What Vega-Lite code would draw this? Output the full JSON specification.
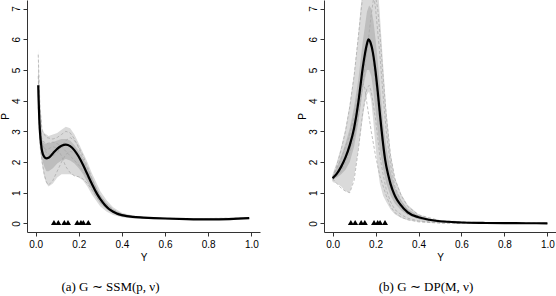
{
  "$schema": "https://vega.github.io/schema/vega-lite/v6.json",
  "padding": {"left": 0, "top": 0, "right": 0, "bottom": 0},
  "spacing": 37,
  "config": {
    "view": {"stroke": null},
    "font": "Liberation Sans",
    "axis": {"grid": false, "domainColor": "#333333", "tickColor": "#333333", "tickSize": 4, "labelFontSize": 10, "titleFontSize": 10, "titleFontWeight": "normal", "labelColor": "#000000", "titleColor": "#000000", "labelFont": "Liberation Sans", "titleFont": "Liberation Sans"},
    "title": {"font": "Liberation Serif", "fontSize": 13, "fontWeight": "normal", "color": "#000000"}
  },
  "datasets": {
    "meanA": [
      {"x": 0.012, "y": 4.5}, {"x": 0.014, "y": 4.0}, {"x": 0.017, "y": 3.4}, {"x": 0.02, "y": 3.0}, {"x": 0.025, "y": 2.6}, {"x": 0.03, "y": 2.35}, {"x": 0.04, "y": 2.17}, {"x": 0.05, "y": 2.12}, {"x": 0.06, "y": 2.14}, {"x": 0.08, "y": 2.28}, {"x": 0.1, "y": 2.43}, {"x": 0.12, "y": 2.53}, {"x": 0.14, "y": 2.57}, {"x": 0.16, "y": 2.52}, {"x": 0.18, "y": 2.38}, {"x": 0.2, "y": 2.17}, {"x": 0.22, "y": 1.9}, {"x": 0.24, "y": 1.6}, {"x": 0.26, "y": 1.3}, {"x": 0.28, "y": 1.02}, {"x": 0.3, "y": 0.79}, {"x": 0.32, "y": 0.61}, {"x": 0.34, "y": 0.47}, {"x": 0.36, "y": 0.38}, {"x": 0.38, "y": 0.31}, {"x": 0.4, "y": 0.27}, {"x": 0.45, "y": 0.21}, {"x": 0.5, "y": 0.19}, {"x": 0.6, "y": 0.16}, {"x": 0.7, "y": 0.14}, {"x": 0.8, "y": 0.13}, {"x": 0.9, "y": 0.14}, {"x": 0.99, "y": 0.17}
    ],
    "bandAo": [
      {"x": 0.012, "y": 3.6, "hi": 5.7}, {"x": 0.015, "y": 3.0, "hi": 5.0}, {"x": 0.02, "y": 2.4, "hi": 4.0}, {"x": 0.03, "y": 1.9, "hi": 3.1}, {"x": 0.04, "y": 1.5, "hi": 2.95}, {"x": 0.05, "y": 1.3, "hi": 2.9}, {"x": 0.06, "y": 1.2, "hi": 2.85}, {"x": 0.08, "y": 1.3, "hi": 2.9}, {"x": 0.1, "y": 1.5, "hi": 2.95}, {"x": 0.12, "y": 1.6, "hi": 3.05}, {"x": 0.14, "y": 1.6, "hi": 3.15}, {"x": 0.16, "y": 1.6, "hi": 3.1}, {"x": 0.18, "y": 1.55, "hi": 2.9}, {"x": 0.2, "y": 1.5, "hi": 2.6}, {"x": 0.22, "y": 1.4, "hi": 2.3}, {"x": 0.24, "y": 1.2, "hi": 2.0}, {"x": 0.26, "y": 0.95, "hi": 1.65}, {"x": 0.28, "y": 0.75, "hi": 1.35}, {"x": 0.3, "y": 0.55, "hi": 1.05}, {"x": 0.33, "y": 0.38, "hi": 0.75}, {"x": 0.36, "y": 0.27, "hi": 0.52}, {"x": 0.4, "y": 0.2, "hi": 0.35}, {"x": 0.45, "y": 0.16, "hi": 0.26}, {"x": 0.5, "y": 0.15, "hi": 0.22}, {"x": 0.6, "y": 0.13, "hi": 0.18}, {"x": 0.7, "y": 0.12, "hi": 0.16}, {"x": 0.8, "y": 0.11, "hi": 0.15}, {"x": 0.9, "y": 0.12, "hi": 0.16}, {"x": 0.99, "y": 0.14, "hi": 0.2}
    ],
    "bandAi": [
      {"x": 0.012, "y": 4.0, "hi": 5.2}, {"x": 0.015, "y": 3.3, "hi": 4.4}, {"x": 0.02, "y": 2.6, "hi": 3.4}, {"x": 0.03, "y": 2.1, "hi": 2.7}, {"x": 0.04, "y": 1.85, "hi": 2.6}, {"x": 0.05, "y": 1.7, "hi": 2.6}, {"x": 0.06, "y": 1.7, "hi": 2.6}, {"x": 0.08, "y": 1.8, "hi": 2.65}, {"x": 0.1, "y": 1.95, "hi": 2.7}, {"x": 0.12, "y": 2.05, "hi": 2.75}, {"x": 0.14, "y": 2.1, "hi": 2.75}, {"x": 0.16, "y": 2.05, "hi": 2.7}, {"x": 0.18, "y": 1.95, "hi": 2.55}, {"x": 0.2, "y": 1.8, "hi": 2.35}, {"x": 0.22, "y": 1.6, "hi": 2.1}, {"x": 0.24, "y": 1.35, "hi": 1.8}, {"x": 0.26, "y": 1.1, "hi": 1.5}, {"x": 0.28, "y": 0.85, "hi": 1.2}, {"x": 0.3, "y": 0.65, "hi": 0.92}, {"x": 0.33, "y": 0.45, "hi": 0.65}, {"x": 0.36, "y": 0.32, "hi": 0.45}, {"x": 0.4, "y": 0.22, "hi": 0.31}, {"x": 0.45, "y": 0.18, "hi": 0.24}, {"x": 0.5, "y": 0.16, "hi": 0.21}, {"x": 0.6, "y": 0.14, "hi": 0.17}, {"x": 0.7, "y": 0.13, "hi": 0.155}, {"x": 0.8, "y": 0.12, "hi": 0.145}, {"x": 0.9, "y": 0.13, "hi": 0.15}, {"x": 0.99, "y": 0.15, "hi": 0.19}
    ],
    "linesA": [
      {"id": 1, "x": 0.012, "y": 5.5}, {"id": 1, "x": 0.02, "y": 3.8}, {"id": 1, "x": 0.03, "y": 3.0}, {"id": 1, "x": 0.05, "y": 2.8}, {"id": 1, "x": 0.08, "y": 2.75}, {"id": 1, "x": 0.1, "y": 2.8}, {"id": 1, "x": 0.12, "y": 2.9}, {"id": 1, "x": 0.14, "y": 3.0}, {"id": 1, "x": 0.16, "y": 2.95}, {"id": 1, "x": 0.18, "y": 2.75}, {"id": 1, "x": 0.2, "y": 2.45}, {"id": 1, "x": 0.22, "y": 2.1}, {"id": 1, "x": 0.24, "y": 1.8}, {"id": 1, "x": 0.26, "y": 1.45}, {"id": 1, "x": 0.28, "y": 1.15}, {"id": 1, "x": 0.3, "y": 0.9}, {"id": 1, "x": 0.33, "y": 0.62}, {"id": 1, "x": 0.36, "y": 0.45}, {"id": 1, "x": 0.4, "y": 0.3}, {"id": 1, "x": 0.45, "y": 0.22}, {"id": 1, "x": 0.5, "y": 0.19}, {"id": 1, "x": 0.6, "y": 0.16}, {"id": 1, "x": 0.7, "y": 0.14}, {"id": 1, "x": 0.8, "y": 0.13}, {"id": 1, "x": 0.9, "y": 0.14}, {"id": 1, "x": 0.99, "y": 0.17},
      {"id": 2, "x": 0.012, "y": 3.8}, {"id": 2, "x": 0.02, "y": 2.6}, {"id": 2, "x": 0.03, "y": 2.0}, {"id": 2, "x": 0.04, "y": 1.6}, {"id": 2, "x": 0.05, "y": 1.35}, {"id": 2, "x": 0.06, "y": 1.25}, {"id": 2, "x": 0.08, "y": 1.4}, {"id": 2, "x": 0.1, "y": 1.7}, {"id": 2, "x": 0.12, "y": 2.0}, {"id": 2, "x": 0.14, "y": 2.25}, {"id": 2, "x": 0.16, "y": 2.35}, {"id": 2, "x": 0.18, "y": 2.3}, {"id": 2, "x": 0.2, "y": 2.15}, {"id": 2, "x": 0.22, "y": 1.9}, {"id": 2, "x": 0.24, "y": 1.6}, {"id": 2, "x": 0.26, "y": 1.3}, {"id": 2, "x": 0.28, "y": 1.0}, {"id": 2, "x": 0.3, "y": 0.75}, {"id": 2, "x": 0.33, "y": 0.5}, {"id": 2, "x": 0.36, "y": 0.36}, {"id": 2, "x": 0.4, "y": 0.26}, {"id": 2, "x": 0.5, "y": 0.18}, {"id": 2, "x": 0.7, "y": 0.14}, {"id": 2, "x": 0.99, "y": 0.16},
      {"id": 3, "x": 0.012, "y": 4.2}, {"id": 3, "x": 0.02, "y": 3.0}, {"id": 3, "x": 0.03, "y": 2.5}, {"id": 3, "x": 0.05, "y": 2.4}, {"id": 3, "x": 0.08, "y": 2.5}, {"id": 3, "x": 0.1, "y": 2.45}, {"id": 3, "x": 0.12, "y": 2.2}, {"id": 3, "x": 0.14, "y": 1.85}, {"id": 3, "x": 0.16, "y": 1.65}, {"id": 3, "x": 0.18, "y": 1.55}, {"id": 3, "x": 0.2, "y": 1.52}, {"id": 3, "x": 0.22, "y": 1.45}, {"id": 3, "x": 0.24, "y": 1.3}, {"id": 3, "x": 0.26, "y": 1.1}, {"id": 3, "x": 0.28, "y": 0.88}, {"id": 3, "x": 0.3, "y": 0.68}, {"id": 3, "x": 0.33, "y": 0.48}, {"id": 3, "x": 0.36, "y": 0.35}, {"id": 3, "x": 0.4, "y": 0.25}, {"id": 3, "x": 0.5, "y": 0.18}, {"id": 3, "x": 0.7, "y": 0.14}, {"id": 3, "x": 0.99, "y": 0.17},
      {"id": 4, "x": 0.012, "y": 4.8}, {"id": 4, "x": 0.02, "y": 3.3}, {"id": 4, "x": 0.03, "y": 2.6}, {"id": 4, "x": 0.05, "y": 2.3}, {"id": 4, "x": 0.08, "y": 2.2}, {"id": 4, "x": 0.1, "y": 2.3}, {"id": 4, "x": 0.12, "y": 2.5}, {"id": 4, "x": 0.14, "y": 2.7}, {"id": 4, "x": 0.16, "y": 2.8}, {"id": 4, "x": 0.18, "y": 2.7}, {"id": 4, "x": 0.2, "y": 2.5}, {"id": 4, "x": 0.22, "y": 2.2}, {"id": 4, "x": 0.24, "y": 1.85}, {"id": 4, "x": 0.26, "y": 1.5}, {"id": 4, "x": 0.28, "y": 1.15}, {"id": 4, "x": 0.3, "y": 0.85}, {"id": 4, "x": 0.33, "y": 0.55}, {"id": 4, "x": 0.36, "y": 0.38}, {"id": 4, "x": 0.4, "y": 0.27}, {"id": 4, "x": 0.5, "y": 0.19}, {"id": 4, "x": 0.7, "y": 0.15}, {"id": 4, "x": 0.99, "y": 0.18},
      {"id": 5, "x": 0.012, "y": 4.3}, {"id": 5, "x": 0.02, "y": 3.1}, {"id": 5, "x": 0.03, "y": 2.7}, {"id": 5, "x": 0.05, "y": 2.6}, {"id": 5, "x": 0.08, "y": 2.65}, {"id": 5, "x": 0.1, "y": 2.6}, {"id": 5, "x": 0.12, "y": 2.5}, {"id": 5, "x": 0.14, "y": 2.35}, {"id": 5, "x": 0.16, "y": 2.2}, {"id": 5, "x": 0.18, "y": 2.05}, {"id": 5, "x": 0.2, "y": 1.9}, {"id": 5, "x": 0.22, "y": 1.7}, {"id": 5, "x": 0.24, "y": 1.5}, {"id": 5, "x": 0.26, "y": 1.25}, {"id": 5, "x": 0.28, "y": 1.0}, {"id": 5, "x": 0.3, "y": 0.78}, {"id": 5, "x": 0.33, "y": 0.55}, {"id": 5, "x": 0.36, "y": 0.4}, {"id": 5, "x": 0.4, "y": 0.28}, {"id": 5, "x": 0.5, "y": 0.19}, {"id": 5, "x": 0.7, "y": 0.15}, {"id": 5, "x": 0.99, "y": 0.17}
    ],
    "pts": [
      {"x": 0.085, "y": 0.03}, {"x": 0.105, "y": 0.03}, {"x": 0.133, "y": 0.03}, {"x": 0.15, "y": 0.03}, {"x": 0.193, "y": 0.03}, {"x": 0.21, "y": 0.03}, {"x": 0.221, "y": 0.03}, {"x": 0.244, "y": 0.03}
    ],
    "meanB": [
      {"x": 0.0, "y": 1.47}, {"x": 0.02, "y": 1.62}, {"x": 0.04, "y": 1.85}, {"x": 0.06, "y": 2.15}, {"x": 0.08, "y": 2.55}, {"x": 0.1, "y": 3.1}, {"x": 0.12, "y": 3.95}, {"x": 0.13, "y": 4.5}, {"x": 0.14, "y": 5.05}, {"x": 0.15, "y": 5.5}, {"x": 0.16, "y": 5.85}, {"x": 0.167, "y": 6.0}, {"x": 0.175, "y": 5.92}, {"x": 0.188, "y": 5.55}, {"x": 0.2, "y": 4.95}, {"x": 0.21, "y": 4.3}, {"x": 0.222, "y": 3.45}, {"x": 0.235, "y": 2.6}, {"x": 0.245, "y": 2.06}, {"x": 0.26, "y": 1.55}, {"x": 0.27, "y": 1.28}, {"x": 0.29, "y": 0.9}, {"x": 0.315, "y": 0.62}, {"x": 0.35, "y": 0.36}, {"x": 0.4, "y": 0.2}, {"x": 0.45, "y": 0.12}, {"x": 0.5, "y": 0.07}, {"x": 0.6, "y": 0.03}, {"x": 0.7, "y": 0.015}, {"x": 0.8, "y": 0.008}, {"x": 0.9, "y": 0.005}, {"x": 1.0, "y": 0.004}
    ],
    "bandBo": [
      {"x": 0.0, "y": 1.35, "hi": 1.6}, {"x": 0.02, "y": 1.3, "hi": 2.0}, {"x": 0.04, "y": 1.2, "hi": 2.5}, {"x": 0.06, "y": 1.05, "hi": 3.1}, {"x": 0.08, "y": 1.0, "hi": 3.9}, {"x": 0.1, "y": 1.5, "hi": 4.9}, {"x": 0.12, "y": 2.4, "hi": 6.2}, {"x": 0.13, "y": 2.9, "hi": 7.0}, {"x": 0.14, "y": 3.4, "hi": 7.6}, {"x": 0.15, "y": 3.9, "hi": 8.0}, {"x": 0.16, "y": 4.2, "hi": 8.0}, {"x": 0.17, "y": 4.3, "hi": 8.0}, {"x": 0.18, "y": 4.0, "hi": 8.0}, {"x": 0.19, "y": 3.3, "hi": 8.0}, {"x": 0.2, "y": 2.5, "hi": 8.0}, {"x": 0.21, "y": 1.8, "hi": 7.8}, {"x": 0.22, "y": 1.3, "hi": 6.8}, {"x": 0.235, "y": 0.9, "hi": 5.2}, {"x": 0.25, "y": 0.7, "hi": 3.7}, {"x": 0.27, "y": 0.45, "hi": 2.3}, {"x": 0.29, "y": 0.3, "hi": 1.5}, {"x": 0.32, "y": 0.18, "hi": 0.95}, {"x": 0.35, "y": 0.1, "hi": 0.6}, {"x": 0.4, "y": 0.05, "hi": 0.3}, {"x": 0.45, "y": 0.02, "hi": 0.17}, {"x": 0.5, "y": 0.01, "hi": 0.1}, {"x": 0.6, "y": 0.0, "hi": 0.05}, {"x": 0.7, "y": 0.0, "hi": 0.03}, {"x": 0.8, "y": 0.0, "hi": 0.02}, {"x": 0.9, "y": 0.0, "hi": 0.015}, {"x": 1.0, "y": 0.0, "hi": 0.01}
    ],
    "bandBi": [
      {"x": 0.0, "y": 1.42, "hi": 1.52}, {"x": 0.02, "y": 1.5, "hi": 1.85}, {"x": 0.04, "y": 1.6, "hi": 2.2}, {"x": 0.06, "y": 1.75, "hi": 2.6}, {"x": 0.08, "y": 2.0, "hi": 3.1}, {"x": 0.1, "y": 2.5, "hi": 3.8}, {"x": 0.12, "y": 3.3, "hi": 4.7}, {"x": 0.13, "y": 3.8, "hi": 5.3}, {"x": 0.14, "y": 4.3, "hi": 5.9}, {"x": 0.15, "y": 4.7, "hi": 6.4}, {"x": 0.16, "y": 5.0, "hi": 6.9}, {"x": 0.17, "y": 5.0, "hi": 7.1}, {"x": 0.18, "y": 4.8, "hi": 7.0}, {"x": 0.19, "y": 4.3, "hi": 6.6}, {"x": 0.2, "y": 3.7, "hi": 6.0}, {"x": 0.21, "y": 3.0, "hi": 5.3}, {"x": 0.22, "y": 2.4, "hi": 4.5}, {"x": 0.235, "y": 1.8, "hi": 3.3}, {"x": 0.25, "y": 1.3, "hi": 2.5}, {"x": 0.27, "y": 0.9, "hi": 1.7}, {"x": 0.29, "y": 0.65, "hi": 1.15}, {"x": 0.32, "y": 0.42, "hi": 0.75}, {"x": 0.35, "y": 0.27, "hi": 0.47}, {"x": 0.4, "y": 0.14, "hi": 0.26}, {"x": 0.45, "y": 0.08, "hi": 0.15}, {"x": 0.5, "y": 0.05, "hi": 0.09}, {"x": 0.6, "y": 0.02, "hi": 0.04}, {"x": 0.7, "y": 0.01, "hi": 0.02}, {"x": 0.8, "y": 0.005, "hi": 0.012}, {"x": 0.9, "y": 0.003, "hi": 0.008}, {"x": 1.0, "y": 0.002, "hi": 0.006}
    ],
    "linesB": [
      {"id": 1, "x": 0.0, "y": 1.45}, {"id": 1, "x": 0.02, "y": 1.3}, {"id": 1, "x": 0.04, "y": 1.15}, {"id": 1, "x": 0.06, "y": 1.05}, {"id": 1, "x": 0.08, "y": 1.0}, {"id": 1, "x": 0.1, "y": 1.4}, {"id": 1, "x": 0.12, "y": 2.4}, {"id": 1, "x": 0.14, "y": 3.6}, {"id": 1, "x": 0.16, "y": 4.4}, {"id": 1, "x": 0.17, "y": 4.5}, {"id": 1, "x": 0.18, "y": 4.3}, {"id": 1, "x": 0.2, "y": 3.4}, {"id": 1, "x": 0.22, "y": 2.2}, {"id": 1, "x": 0.235, "y": 1.6}, {"id": 1, "x": 0.25, "y": 1.1}, {"id": 1, "x": 0.27, "y": 0.7}, {"id": 1, "x": 0.29, "y": 0.45}, {"id": 1, "x": 0.32, "y": 0.28}, {"id": 1, "x": 0.35, "y": 0.17}, {"id": 1, "x": 0.4, "y": 0.08}, {"id": 1, "x": 0.5, "y": 0.02}, {"id": 1, "x": 0.7, "y": 0.005}, {"id": 1, "x": 1.0, "y": 0.0},
      {"id": 2, "x": 0.0, "y": 1.5}, {"id": 2, "x": 0.02, "y": 1.9}, {"id": 2, "x": 0.04, "y": 2.4}, {"id": 2, "x": 0.06, "y": 3.0}, {"id": 2, "x": 0.08, "y": 3.8}, {"id": 2, "x": 0.1, "y": 4.8}, {"id": 2, "x": 0.12, "y": 6.1}, {"id": 2, "x": 0.14, "y": 7.4}, {"id": 2, "x": 0.16, "y": 8.2}, {"id": 2, "x": 0.18, "y": 8.0}, {"id": 2, "x": 0.2, "y": 7.0}, {"id": 2, "x": 0.22, "y": 5.5}, {"id": 2, "x": 0.235, "y": 4.2}, {"id": 2, "x": 0.25, "y": 3.0}, {"id": 2, "x": 0.27, "y": 1.9}, {"id": 2, "x": 0.29, "y": 1.2}, {"id": 2, "x": 0.32, "y": 0.7}, {"id": 2, "x": 0.35, "y": 0.42}, {"id": 2, "x": 0.4, "y": 0.2}, {"id": 2, "x": 0.5, "y": 0.06}, {"id": 2, "x": 0.7, "y": 0.01}, {"id": 2, "x": 1.0, "y": 0.0},
      {"id": 3, "x": 0.0, "y": 1.4}, {"id": 3, "x": 0.04, "y": 1.7}, {"id": 3, "x": 0.08, "y": 2.3}, {"id": 3, "x": 0.1, "y": 2.8}, {"id": 3, "x": 0.12, "y": 3.5}, {"id": 3, "x": 0.14, "y": 4.5}, {"id": 3, "x": 0.16, "y": 5.6}, {"id": 3, "x": 0.18, "y": 6.8}, {"id": 3, "x": 0.19, "y": 7.3}, {"id": 3, "x": 0.2, "y": 7.4}, {"id": 3, "x": 0.21, "y": 7.0}, {"id": 3, "x": 0.22, "y": 6.2}, {"id": 3, "x": 0.235, "y": 4.8}, {"id": 3, "x": 0.25, "y": 3.5}, {"id": 3, "x": 0.27, "y": 2.2}, {"id": 3, "x": 0.29, "y": 1.45}, {"id": 3, "x": 0.32, "y": 0.9}, {"id": 3, "x": 0.35, "y": 0.55}, {"id": 3, "x": 0.4, "y": 0.28}, {"id": 3, "x": 0.5, "y": 0.09}, {"id": 3, "x": 0.7, "y": 0.02}, {"id": 3, "x": 1.0, "y": 0.005},
      {"id": 4, "x": 0.0, "y": 1.5}, {"id": 4, "x": 0.04, "y": 2.1}, {"id": 4, "x": 0.08, "y": 2.9}, {"id": 4, "x": 0.1, "y": 3.5}, {"id": 4, "x": 0.12, "y": 4.3}, {"id": 4, "x": 0.14, "y": 4.6}, {"id": 4, "x": 0.15, "y": 4.4}, {"id": 4, "x": 0.16, "y": 3.9}, {"id": 4, "x": 0.18, "y": 3.0}, {"id": 4, "x": 0.2, "y": 2.2}, {"id": 4, "x": 0.22, "y": 1.55}, {"id": 4, "x": 0.25, "y": 0.9}, {"id": 4, "x": 0.27, "y": 0.55}, {"id": 4, "x": 0.29, "y": 0.35}, {"id": 4, "x": 0.32, "y": 0.2}, {"id": 4, "x": 0.35, "y": 0.12}, {"id": 4, "x": 0.4, "y": 0.05}, {"id": 4, "x": 0.5, "y": 0.01}, {"id": 4, "x": 1.0, "y": 0.0},
      {"id": 5, "x": 0.0, "y": 1.45}, {"id": 5, "x": 0.04, "y": 1.8}, {"id": 5, "x": 0.08, "y": 2.4}, {"id": 5, "x": 0.1, "y": 2.9}, {"id": 5, "x": 0.12, "y": 3.7}, {"id": 5, "x": 0.14, "y": 4.8}, {"id": 5, "x": 0.16, "y": 5.7}, {"id": 5, "x": 0.17, "y": 5.9}, {"id": 5, "x": 0.18, "y": 5.7}, {"id": 5, "x": 0.2, "y": 4.6}, {"id": 5, "x": 0.22, "y": 3.3}, {"id": 5, "x": 0.235, "y": 2.4}, {"id": 5, "x": 0.25, "y": 1.75}, {"id": 5, "x": 0.27, "y": 1.15}, {"id": 5, "x": 0.29, "y": 0.8}, {"id": 5, "x": 0.32, "y": 0.5}, {"id": 5, "x": 0.35, "y": 0.3}, {"id": 5, "x": 0.4, "y": 0.15}, {"id": 5, "x": 0.5, "y": 0.05}, {"id": 5, "x": 0.7, "y": 0.01}, {"id": 5, "x": 1.0, "y": 0.0}
    ]
  },
  "hconcat": [
    {
      "width": 233,
      "height": 232,
      "title": {"text": "(a) G ∼ SSM(p, ν)", "orient": "bottom", "offset": 19, "dx": -33},
      "encoding": {
        "x": {"field": "x", "type": "quantitative", "scale": {"domain": [-0.04, 1.04], "nice": false, "zero": false}, "axis": {"title": "Y", "values": [0, 0.2, 0.4, 0.6, 0.8, 1.0], "format": ".1f", "labelPadding": 3, "titlePadding": 3, "labelFlush": false}},
        "y": {"field": "y", "type": "quantitative", "scale": {"domain": [-0.28, 7.28], "nice": false, "zero": false}, "axis": {"title": "P", "values": [0, 1, 2, 3, 4, 5, 6, 7], "labelAngle": 270, "labelAlign": "center", "labelBaseline": "bottom", "labelPadding": 2, "titlePadding": 1, "labelFlush": false}}
      },
      "layer": [
        {"data": {"name": "bandAo"}, "mark": {"type": "area", "color": "#dadada", "clip": true}, "encoding": {"y2": {"field": "hi"}}},
        {"data": {"name": "bandAi"}, "mark": {"type": "area", "color": "#bdbdbd", "clip": true}, "encoding": {"y2": {"field": "hi"}}},
        {"data": {"name": "linesA"}, "mark": {"type": "line", "color": "#a6a6a6", "strokeWidth": 0.7, "strokeDash": [3, 2], "clip": true}, "encoding": {"detail": {"field": "id", "type": "nominal"}}},
        {"data": {"name": "meanA"}, "mark": {"type": "line", "color": "#000000", "strokeWidth": 2.2, "interpolate": "monotone", "clip": true}, "encoding": {}},
        {"data": {"name": "pts"}, "mark": {"type": "point", "shape": "triangle-up", "filled": true, "color": "#000000", "size": 36, "opacity": 1}, "encoding": {}}
      ]
    },
    {
      "width": 232,
      "height": 232,
      "title": {"text": "(b) G ∼ DP(M, ν)", "orient": "bottom", "offset": 19, "dx": -14},
      "encoding": {
        "x": {"field": "x", "type": "quantitative", "scale": {"domain": [-0.04, 1.04], "nice": false, "zero": false}, "axis": {"title": "Y", "values": [0, 0.2, 0.4, 0.6, 0.8, 1.0], "format": ".1f", "labelPadding": 3, "titlePadding": 3, "labelFlush": false}},
        "y": {"field": "y", "type": "quantitative", "scale": {"domain": [-0.28, 7.28], "nice": false, "zero": false}, "axis": {"title": "P", "values": [0, 1, 2, 3, 4, 5, 6, 7], "labelAngle": 270, "labelAlign": "center", "labelBaseline": "bottom", "labelPadding": 2, "titlePadding": 1, "labelFlush": false}}
      },
      "layer": [
        {"data": {"name": "bandBo"}, "mark": {"type": "area", "color": "#dadada", "clip": true}, "encoding": {"y2": {"field": "hi"}}},
        {"data": {"name": "bandBi"}, "mark": {"type": "area", "color": "#bdbdbd", "clip": true}, "encoding": {"y2": {"field": "hi"}}},
        {"data": {"name": "linesB"}, "mark": {"type": "line", "color": "#a6a6a6", "strokeWidth": 0.7, "strokeDash": [3, 2], "clip": true}, "encoding": {"detail": {"field": "id", "type": "nominal"}}},
        {"data": {"name": "meanB"}, "mark": {"type": "line", "color": "#000000", "strokeWidth": 2.2, "interpolate": "monotone", "clip": true}, "encoding": {}},
        {"data": {"name": "pts"}, "mark": {"type": "point", "shape": "triangle-up", "filled": true, "color": "#000000", "size": 36, "opacity": 1}, "encoding": {}}
      ]
    }
  ]
}
